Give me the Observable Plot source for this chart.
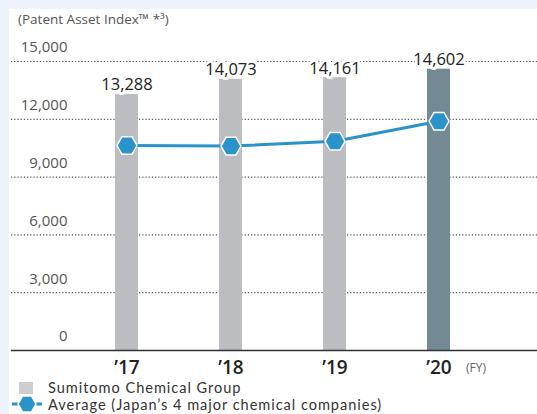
<!DOCTYPE html>
<html>
<head>
<meta charset="utf-8">
<script src="https://cdn.jsdelivr.net/npm/d3@7"></script>
<script src="https://cdn.jsdelivr.net/npm/@observablehq/plot@0.6"></script>
<style>
  html, body { margin: 0; padding: 0; }
  body { width: 537px; height: 414px; background: #eef3fb; position: relative; overflow: hidden; font-family: "Open Sans", sans-serif; }
  #panel { position: absolute; left: 9px; top: 9px; width: 528px; height: 405px; background: #fff; }
  #chart { position: absolute; left: 0; top: 0; }
  #chart svg { background: transparent; }
  #title { position: absolute; left: 18px; top: 10px; font-size: 13.5px; color: #555; white-space: nowrap; }
  .leg { position: absolute; left: 0; height: 17px; font-family: Lato, sans-serif; font-size: 14.6px; letter-spacing: 0.95px; color: #333; white-space: nowrap; line-height: 17px; }
  .leg span.t { position: absolute; left: 48px; top: 0; }
</style>
</head>
<body>
<div id="panel"></div>
<div id="chart"></div>
<div id="title">(Patent Asset Index™ *³)</div>
<div class="leg" id="leg1" style="top:379px;"><div style="position:absolute;left:19px;top:3px;width:14px;height:12px;background:#cdcdce;"></div><span class="t">Sumitomo Chemical Group</span></div>
<div class="leg" id="leg2" style="top:396px;"><svg style="position:absolute;left:10px;top:-1px;" width="34" height="18"><line x1="2" x2="32" y1="9" y2="9" stroke="#2a93c9" stroke-width="3"/><path id="leghex" fill="#2a93c9" stroke="#fff" stroke-width="1.5"/></svg><span class="t">Average (Japan’s 4 major chemical companies)</span></div>
<script>
const years = ["’17", "’18", "’19", "’20"];
const sumitomo = [13288, 14073, 14161, 14602];
const average = [10640, 10610, 10860, 11900];
const yTicks = [0, 3000, 6000, 9000, 12000, 15000];

const barColor = "#bcbdc0";
const barHighlight = "#738a94";
const lineColor = "#2a93c9";

const bars = years.map((y, i) => ({year: y, value: sumitomo[i], last: i === years.length - 1}));
const avg = years.map((y, i) => ({year: y, value: average[i]}));

// flat-top hexagon with points left/right
const hexSide = {
  draw(context, size) {
    const r = Math.sqrt(size / Math.PI);
    const h = r * 0.88;
    context.moveTo(r, 0);
    context.lineTo(r / 2, h);
    context.lineTo(-r / 2, h);
    context.lineTo(-r, 0);
    context.lineTo(-r / 2, -h);
    context.lineTo(r / 2, -h);
    context.closePath();
  }
};

{
  const p = d3.path();
  const c = {moveTo:(x,y)=>p.moveTo(x+17,y+9), lineTo:(x,y)=>p.lineTo(x+17,y+9), closePath:()=>p.closePath()};
  hexSide.draw(c, Math.PI * 81);
  document.getElementById("leghex").setAttribute("d", p.toString());
}

const fmt = d3.format(",");

const chart = Plot.plot({
  width: 537,
  height: 414,
  marginLeft: 11,
  marginRight: 0,
  marginTop: 61,
  marginBottom: 64,
  style: {fontFamily: "Open Sans, sans-serif", background: "transparent", overflow: "visible"},
  x: {domain: years, range: [73.1, 492.3], paddingInner: 0.78, paddingOuter: 0.39, axis: null},
  y: {domain: [0, 15000], axis: null},
  marks: [
    Plot.ruleY(yTicks.filter(d => d > 0), {stroke: "#555", strokeWidth: 1.2, strokeDasharray: "1.2,2"}),
    Plot.text(yTicks, {y: d => d, text: d => fmt(d), frameAnchor: "left", textAnchor: "end", dx: 56, dy: -14, fontSize: 15, fill: "#555"}),
    Plot.barY(bars, {x: "year", y: "value", fill: d => d.last ? barHighlight : barColor}),
    Plot.ruleY([0], {stroke: "#333", strokeWidth: 1.5}),
    Plot.text(bars, {x: "year", y: "value", text: d => fmt(d.value), lineAnchor: "bottom", dy: -4, fontSize: 16.5, fill: "#222", stroke: "white", strokeWidth: 6}),
    Plot.line(avg, {x: "year", y: "value", stroke: lineColor, strokeWidth: 3}),
    Plot.dot(avg, {x: "year", y: "value", r: 10, symbol: hexSide, fill: lineColor, stroke: "white", strokeWidth: 1.5}),
    Plot.text(years, {x: d => d, y: () => 0, text: d => d, dy: 17, fontSize: 19, fontWeight: 600, fill: "#222"}),
    Plot.text(["(FY)"], {x: () => years[years.length - 1], y: () => 0, text: d => d, dx: 37, dy: 18, fontSize: 12, fill: "#666"})
  ]
});
document.getElementById("chart").appendChild(chart);
</script>
</body>
</html>
